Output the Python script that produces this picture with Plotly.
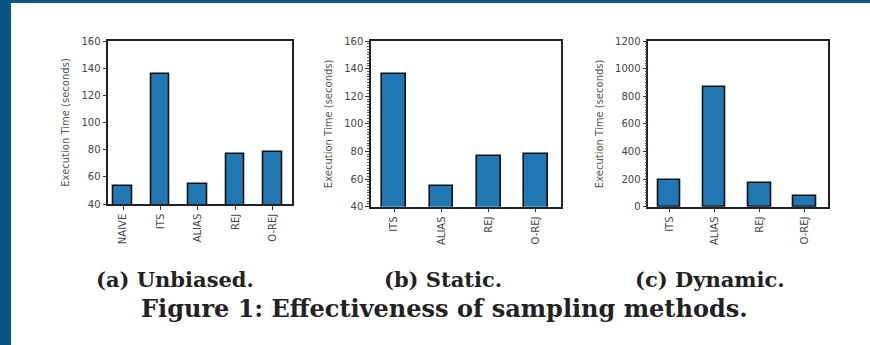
import plotly.graph_objects as go

# Data
cats_a = ["NAIVE", "ITS", "ALIAS", "REJ", "O-REJ"]
vals_a = [53.5, 136, 54.7, 77, 78.5]
cats_b = ["ITS", "ALIAS", "REJ", "O-REJ"]
vals_b = [136.3, 54.7, 76.9, 78.4]
cats_c = ["ITS", "ALIAS", "REJ", "O-REJ"]
vals_c = [193, 865, 174, 77]

W, H = 870, 345
BAR = "#1f77b4"
FRAME = "#0a5583"

fig = go.Figure()

panels = [
    (cats_a, vals_a, "x", "y", [-0.393, 4.524], [40, 160], 20, None),
    (cats_b, vals_b, "x2", "y2", [-0.49, 3.53], [40, 160], 20, 2),
    (cats_c, vals_c, "x3", "y3", [-0.466, 3.51], [0, 1200], 200, 20),
]
domains = [
    ([108.3 / W, 292.3 / W], [1 - 204 / H, 1 - 41 / H]),
    ([371 / W, 561 / W], [1 - 206.7 / H, 1 - 41 / H]),
    ([648.3 / W, 827.7 / W], [1 - 206.7 / H, 1 - 41 / H]),
]

tickfont = dict(family="DejaVu Sans", size=10, color="#444")
for i, (cats, vals, xa, ya, xr, yr, dt, mdt) in enumerate(panels):
    xs = list(range(len(cats)))
    fig.add_trace(go.Bar(
        x=xs, y=vals, xaxis=xa, yaxis=ya, width=0.5,
        marker=dict(color=BAR, line=dict(color="#111", width=1.6)),
        showlegend=False,
    ))
    sfx = "" if i == 0 else str(i + 1)
    xd, yd = domains[i]
    fig.layout["xaxis" + sfx] = dict(
        domain=xd, anchor=ya, range=xr, tickmode="array", tickvals=xs,
        ticktext=cats, tickangle=-90, ticks="outside", ticklen=4,
        tickcolor="#333", showline=True, mirror=True, linecolor="#222",
        linewidth=1.5, showgrid=False, zeroline=False, tickfont=tickfont,
        automargin=False, fixedrange=True,
    )
    ydict = dict(
        domain=yd, anchor=xa, range=yr, dtick=dt, tick0=0, ticks="outside",
        ticklen=4, tickcolor="#333", showline=True, mirror=True,
        linecolor="#222", linewidth=1.5, showgrid=False, zeroline=False,
        tickfont=tickfont, automargin=False,
        title=dict(text="Execution Time (seconds)",
                   font=dict(family="DejaVu Sans", size=10, color="#555"),
                   standoff=10),
    )
    if mdt:
        ydict["minor"] = dict(ticks="outside", ticklen=2, dtick=mdt,
                              tickcolor="#555", showgrid=False)
    fig.layout["yaxis" + sfx] = ydict

# Captions
cap_font = dict(family="DejaVu Serif", size=21, color="#222")
for txt, cx in [("<b>(a) Unbiased.</b>", 175), ("<b>(b) Static.</b>", 443),
                ("<b>(c) Dynamic.</b>", 710)]:
    fig.add_annotation(text=txt, x=cx / W, y=1 - 279 / H, xref="paper",
                       yref="paper", showarrow=False, xanchor="center",
                       yanchor="middle", font=cap_font)
fig.add_annotation(text="<b>Figure 1: Effectiveness of sampling methods.</b>",
                   x=444 / W, y=1 - 308 / H, xref="paper", yref="paper",
                   showarrow=False, xanchor="center", yanchor="middle",
                   font=dict(family="DejaVu Serif", size=24, color="#222"))

# Blue frame
fig.add_shape(type="rect", xref="paper", yref="paper", x0=0, x1=11 / W,
              y0=0, y1=1, fillcolor=FRAME, line_width=0, layer="below")
fig.add_shape(type="rect", xref="paper", yref="paper", x0=0, x1=1,
              y0=1 - 3 / H, y1=1, fillcolor=FRAME, line_width=0, layer="below")

fig.update_layout(
    width=W, height=H, margin=dict(l=0, r=0, t=0, b=0),
    paper_bgcolor="white", plot_bgcolor="white", bargap=0,
)

fig.write_html("out.html", config={"displayModeBar": False},
               post_script="document.body.style.margin='0';"
                           "document.body.style.padding='0';")
